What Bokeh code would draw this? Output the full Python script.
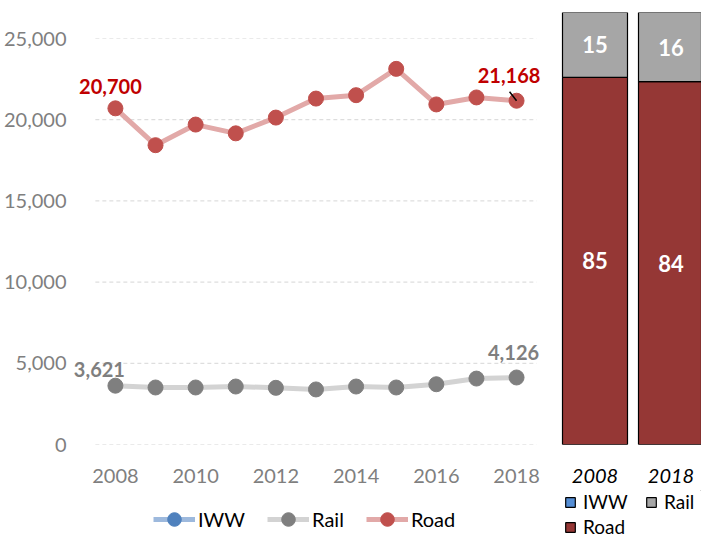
from bokeh.plotting import figure
from bokeh.layouts import row, column
from bokeh.models import (ColumnDataSource, Range1d, NumeralTickFormatter, FixedTicker,
                          Legend, LegendItem, LabelSet, Label, Segment)
from bokeh.core.properties import value
from bokeh.embed import file_html
from bokeh.resources import INLINE

# ---------------- data ----------------
years = [2008, 2009, 2010, 2011, 2012, 2013, 2014, 2015, 2016, 2017, 2018]
road = [20700, 18430, 19700, 19160, 20130, 21300, 21510, 23130, 20940, 21370, 21168]
rail = [3621, 3510, 3510, 3570, 3490, 3390, 3570, 3510, 3710, 4060, 4126]
iww_years = []
iww = []
x_ticks = [2008, 2010, 2012, 2014, 2016, 2018]
y_ticks = [0, 5000, 10000, 15000, 20000, 25000]

share_years = ["2008", "2018"]
share_iww = [0, 0]
share_road = [85, 84]
share_rail = [15, 16]

FONT = "Lato"
GRAY = "#7F7F7F"
COL = {"IWW": ("#9DB9DD", "#4F81BD"), "Rail": ("#D3D3D3", GRAY), "Road": ("#E2A9A8", "#C0504D")}
BAR = {"IWW": "#558ED5", "Road": "#953735", "Rail": "#A6A6A6"}

# ---------------- left: line chart ----------------
PXY = 40.2  # px per year
FRAME_H = 406
x_lo = years[0] - 42 / PXY
x_hi = years[-1] + 28 / PXY
p = figure(width=548, height=490, x_range=Range1d(x_lo, x_hi), y_range=Range1d(0, 25000),
           output_backend="svg", toolbar_location=None,
           min_border_left=72, min_border_right=4, min_border_top=38, min_border_bottom=46)
p.outline_line_color = None
p.xgrid.visible = False
p.ygrid.visible = False

g_lo = years[0] - 0.5
g_hi = years[-1] + 0.5
gsrc = ColumnDataSource(dict(x0=[g_lo] * len(y_ticks), x1=[g_hi] * len(y_ticks), y=y_ticks))
p.segment(x0='x0', y0='y', x1='x1', y1='y', source=gsrc, line_color="#D6D6D6",
          line_width=1, line_dash="4 3")

p.yaxis.ticker = FixedTicker(ticks=y_ticks)
p.yaxis.formatter = NumeralTickFormatter(format="0,0")
p.xaxis.ticker = FixedTicker(ticks=x_ticks)
for ax in (p.xaxis, p.yaxis):
    ax.axis_line_color = None
    ax.major_tick_line_color = None
    ax.minor_tick_line_color = None
    ax.major_label_text_font = FONT
    ax.major_label_text_font_size = "20px"
    ax.major_label_text_color = GRAY
p.yaxis.major_label_standoff = 1
p.xaxis.major_label_standoff = 18

series = {"IWW": (iww_years, iww), "Rail": (years, rail), "Road": (years, road)}
for name, (xs, ys) in series.items():
    src = ColumnDataSource(dict(x=xs, y=ys))
    p.line('x', 'y', source=src, line_color=COL[name][0], line_width=5)
    p.scatter('x', 'y', source=src, size=15, marker="circle",
              fill_color=COL[name][1], line_color=COL[name][1])

px_y = 25000 / FRAME_H
lead = ColumnDataSource(dict(x0=[years[-1] - 7 / PXY], y0=[road[-1] + 9 * px_y],
                             x1=[years[-1]], y1=[road[-1]]))
p.add_glyph(lead, Segment(x0='x0', y0='y0', x1='x1', y1='y1', line_color="black", line_width=1.5))

def add_label(x, y, txt, dx, dy, color):
    p.add_layout(Label(x=x, y=y, text=txt, x_offset=dx, y_offset=dy,
                       text_align="center", text_baseline="middle",
                       text_font=FONT, text_font_size="20px", text_font_style="bold",
                       text_color=color))

add_label(years[0], road[0], f"{road[0]:,}", -5, 22, "#C00000")
add_label(years[-1], road[-1], f"{road[-1]:,}", -7.5, 25, "#C00000")
add_label(years[0], rail[0], f"{rail[0]:,}", -16, 16, GRAY)
add_label(years[-1], rail[-1], f"{rail[-1]:,}", -3, 25, GRAY)

# legend strip under the line chart (sample renderers lie outside its view range)
lp = figure(width=548, height=49, x_range=Range1d(-10, -9), y_range=Range1d(-10, -9),
            output_backend="svg", toolbar_location=None,
            x_axis_location=None, y_axis_location=None,
            min_border_left=0, min_border_right=0, min_border_top=0, min_border_bottom=0)
lp.outline_line_color = None
lp.grid.visible = False
legend_src = ColumnDataSource(dict(x=years, y=road))
items = []
for name in ("IWW", "Rail", "Road"):
    l_r = lp.line('x', 'y', source=legend_src, line_color=COL[name][0], line_width=5)
    c_r = lp.scatter('x', 'y', source=legend_src, size=15, marker="circle",
                     fill_color=COL[name][1], line_color=COL[name][1])
    items.append(LegendItem(label=name, renderers=[l_r, c_r]))
lp.add_layout(Legend(items=items, orientation="horizontal", location=(80, 3),
                     glyph_width=42, glyph_height=34, label_standoff=3, spacing=22,
                     padding=0, margin=0, border_line_color=None, background_fill_alpha=0,
                     label_text_font=FONT, label_text_font_size="20px",
                     label_text_color="black"))

# ---------------- right: stacked share bars ----------------
PXC = 76.0  # px per category
q_lo = -44.5 / PXC
q = figure(width=153, height=490, x_range=Range1d(q_lo, q_lo + 151 / PXC),
           y_range=Range1d(0, 100),
           output_backend="svg", toolbar_location=None, y_axis_location=None,
           min_border_left=2, min_border_right=0, min_border_top=12, min_border_bottom=46)
q.outline_line_color = None
q.xgrid.visible = False
q.ygrid.visible = False
idx = list(range(len(share_years)))
bsrc = ColumnDataSource(dict(x=idx, IWW=share_iww, Road=share_road, Rail=share_rail))
q.vbar_stack(["IWW", "Road", "Rail"], x='x', width=65 / PXC, source=bsrc,
             fill_color=[BAR["IWW"], BAR["Road"], BAR["Rail"]], line_color="black", line_width=1.2)

q.xaxis.ticker = FixedTicker(ticks=idx)
q.xaxis.major_label_overrides = {i: s for i, s in zip(idx, share_years)}
q.xaxis.axis_line_color = None
q.xaxis.major_tick_line_color = None
q.xaxis.minor_tick_line_color = None
q.xaxis.major_label_text_font = FONT
q.xaxis.major_label_text_font_size = "20px"
q.xaxis.major_label_text_font_style = "italic"
q.xaxis.major_label_text_color = "black"
q.xaxis.major_label_standoff = 18

lab_x, lab_y, lab_t = [], [], []
for i in idx:
    lab_x += [i, i]
    lab_y += [share_iww[i] + share_road[i] / 2.0,
              share_iww[i] + share_road[i] + share_rail[i] / 2.0]
    lab_t += [str(share_road[i]), str(share_rail[i])]
lsrc = ColumnDataSource(dict(x=lab_x, y=lab_y, t=lab_t))
q.add_layout(LabelSet(x='x', y='y', text='t', source=lsrc, text_align="center",
                      text_baseline="middle", text_font=value(FONT), text_font_size=value("22px"),
                      text_font_style=value("bold"), text_color=value("white")))

# legend strip under the bars (sample renderers lie outside its view range)
lq = figure(width=153, height=49, x_range=Range1d(-10, -9), y_range=Range1d(-10, -9),
            output_backend="svg", toolbar_location=None,
            x_axis_location=None, y_axis_location=None,
            min_border_left=0, min_border_right=0, min_border_top=0, min_border_bottom=0)
lq.outline_line_color = None
lq.grid.visible = False
items2 = []
for name in ("IWW", "Rail", "Road"):
    r = lq.vbar(x='x', top=name, width=0.5, source=bsrc, fill_color=BAR[name],
                line_color="black", line_width=1.2)
    items2.append(LegendItem(label=name, renderers=[r]))
lq.add_layout(Legend(items=items2, orientation="horizontal", ncols=2, location=(14, 1),
                     glyph_width=12, glyph_height=12, label_standoff=7, label_width=60,
                     spacing=2, padding=0, margin=0, border_line_color=None,
                     background_fill_alpha=0, label_text_font=FONT,
                     label_text_font_size="19px", label_text_color="black"))

layout = row(column(p, lp), column(q, lq))
open("out.html", "w").write(file_html(layout, INLINE))
